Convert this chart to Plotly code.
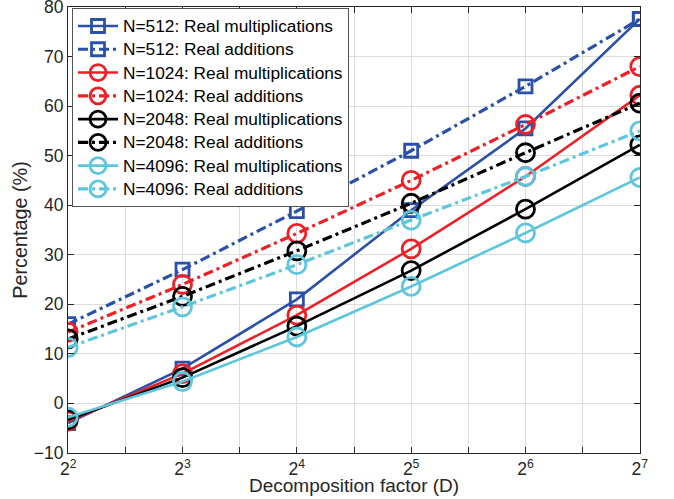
import math
import plotly.graph_objects as go

D = [4, 8, 16, 32, 64, 128]
tick_labels = ["2<sup>2</sup>", "2<sup>3</sup>", "2<sup>4</sup>", "2<sup>5</sup>", "2<sup>6</sup>", "2<sup>7</sup>"]

n512_mult = [-4.0, 7.0, 21.0, 39.0, 55.5, 77.6]
n512_add = [16.0, 27.0, 38.8, 51.0, 64.0, 77.6]
n1024_mult = [-3.6, 6.0, 17.8, 31.2, 45.8, 62.2]
n1024_add = [14.4, 24.0, 34.3, 45.0, 56.3, 68.0]
n2048_mult = [-3.3, 5.2, 15.6, 26.8, 39.2, 52.2]
n2048_add = [13.0, 21.6, 30.8, 40.4, 50.6, 60.6]
n4096_mult = [-2.8, 4.4, 13.4, 23.6, 34.4, 45.6]
n4096_add = [11.3, 19.5, 28.0, 37.0, 45.8, 55.0]

blue = "#2a50a8"
red = "#ef1f26"
black = "#000000"
cyan = "#5ec6dc"

series = [
    ("N=512: Real multiplications", n512_mult, blue, "solid", "square-open"),
    ("N=512: Real additions", n512_add, blue, "dashdot", "square-open"),
    ("N=1024: Real multiplications", n1024_mult, red, "solid", "circle-open"),
    ("N=1024: Real additions", n1024_add, red, "dashdot", "circle-open"),
    ("N=2048: Real multiplications", n2048_mult, black, "solid", "circle-open"),
    ("N=2048: Real additions", n2048_add, black, "dashdot", "circle-open"),
    ("N=4096: Real multiplications", n4096_mult, cyan, "solid", "circle-open"),
    ("N=4096: Real additions", n4096_add, cyan, "dashdot", "circle-open"),
]

fig = go.Figure()
for name, vals, col, dash, sym in series:
    is_sq = sym.startswith("square")
    fig.add_trace(go.Scatter(
        x=D, y=vals, mode="lines+markers",
        name='<span style="font-size:17.3px">' + name + "</span>",
        line=dict(color=col, width=2.6 if dash == "solid" else 3.2,
                  dash="10px,4px,3px,4px" if dash == "dashdot" else "solid"),
        marker=dict(symbol=sym, size=13 if is_sq else 18,
                    color=col, line=dict(color=col, width=2.8)),
    ))

minor_vals = [2 ** (k + 0.5) for k in range(2, 7)]

fig.update_layout(
    width=674, height=499,
    paper_bgcolor="white", plot_bgcolor="white",
    margin=dict(l=68, r=34, t=7, b=46),
    font=dict(family="Liberation Sans, Arial, sans-serif", size=18, color="#262626"),
    showlegend=True,
    legend=dict(
        x=0.007, y=0.997, xanchor="left", yanchor="top",
        bgcolor="white", bordercolor="#555555", borderwidth=1,
        font=dict(size=15.6, color="#000000"),
        tracegroupgap=0, itemwidth=40,
    ),
    annotations=[dict(
        text="Decomposition factor (D)", xref="paper", yref="paper",
        x=0.5, y=0, xanchor="center", yanchor="top", yshift=-20,
        showarrow=False, font=dict(size=19, color="#262626"),
    )],
)

fig.update_xaxes(
    type="log", range=[math.log10(D[0]) - 0.0005, math.log10(D[-1]) + 0.0005],
    tickmode="array", tickvals=D, ticktext=tick_labels,
    showgrid=True, gridcolor="#dcdcdc", gridwidth=1,
    minor=dict(tickmode="array", tickvals=minor_vals, showgrid=True,
               gridcolor="#dcdcdc", ticks="inside", ticklen=6, tickcolor="#262626"),
    ticks="inside", ticklen=6, tickcolor="#262626",
    showline=True, linecolor="#262626", linewidth=1, mirror="ticks",
    zeroline=False, ticklabeloverflow="allow", automargin=False,
    tickfont=dict(size=17.5),
)
fig.update_yaxes(
    range=[-10.02, 80.02], tickmode="linear", tick0=-10, dtick=10,
    showgrid=True, gridcolor="#dcdcdc", gridwidth=1,
    ticks="inside", ticklen=6, tickcolor="#262626",
    showline=True, linecolor="#262626", linewidth=1, mirror="ticks",
    zeroline=False, ticklabeloverflow="allow", automargin=False,
    title=dict(text="Percentage (%)", standoff=0, font=dict(size=19.8)),
    tickfont=dict(size=17.5),
)

fig.write_html("out.html", config={"displayModeBar": False},
               post_script="document.body.style.margin='0';")
